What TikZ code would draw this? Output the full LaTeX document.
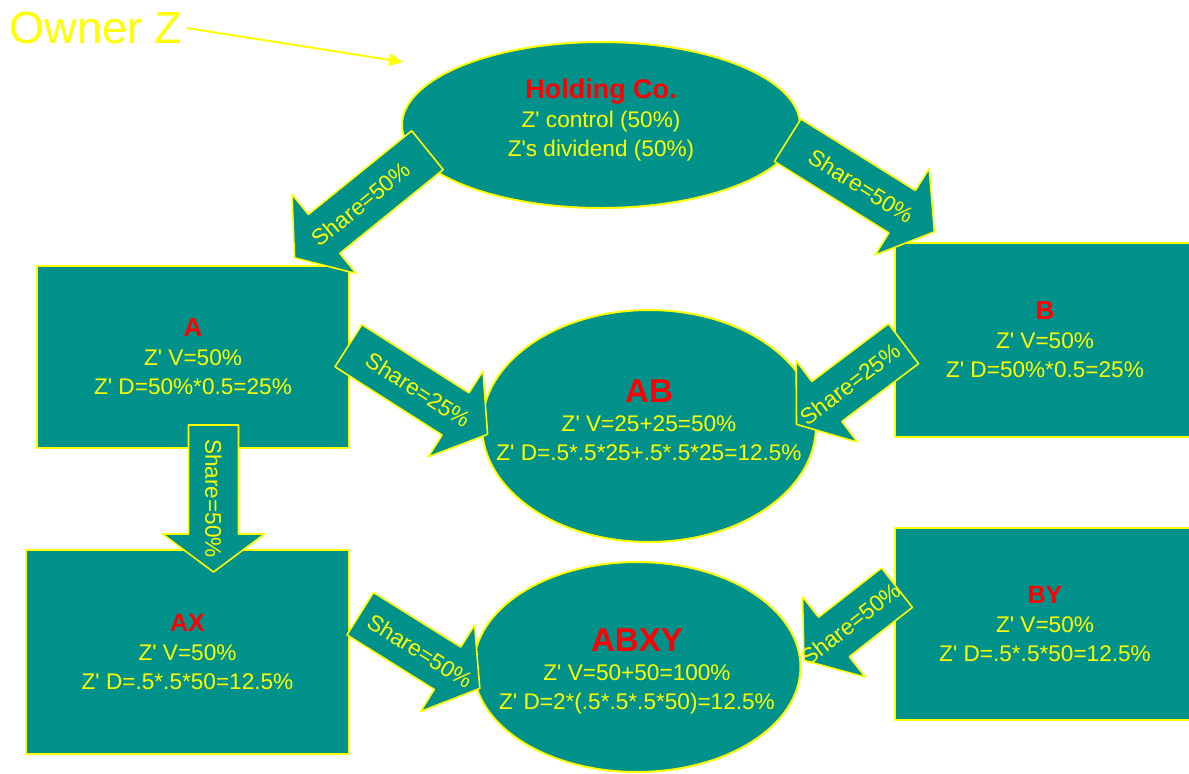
\documentclass[tikz,border=0pt]{standalone}
\usepackage{fontspec}
\setmainfont{Liberation Sans}[Ligatures=TeXOff]
\usetikzlibrary{shapes.geometric,arrows.meta}
\definecolor{zteal}{RGB}{0,146,138}
\definecolor{zyellow}{RGB}{255,255,0}
\definecolor{zred}{RGB}{255,0,0}
\newcommand\bodyfont{\fontsize{11.3}{14.5}\selectfont}
\newcommand\hd[2]{{\fontsize{#1}{#1}\selectfont\bfseries\textcolor{zred}{#2}}}
\begin{document}
\begin{tikzpicture}[x=0.5pt,y=-0.5pt,line join=round,>={Triangle[length=7pt,width=6pt]}]
	\tikzset{every node/.style={text=zyellow,font=\bodyfont,align=center},
		box/.style={draw=zyellow,line width=1.3pt,fill=zteal,inner sep=0pt},
		oval/.style={ellipse,draw=zyellow,line width=1pt,fill=zteal,inner sep=0pt},
		sharearrow/.style={draw=zyellow,line width=0.8pt,fill=zteal}}
	\useasboundingbox (0,0) rectangle (1189,773);
	\clip (0,0) rectangle (1189,773);
	\fill[white] (0,0) rectangle (1189,773);
	% companies
	\node[oval,minimum width=199pt,minimum height=83pt] (hold) at (601,125) {};
	\node[oval,minimum width=167pt,minimum height=116pt] (ab) at (649,426) {};
	\node[oval,minimum width=163.5pt,minimum height=105pt] (abxy) at (637,667) {};
	\node[box,minimum width=156pt,minimum height=91pt] (a) at (193,357) {\hd{13}{A}\\Z' V=50\%\\Z' D=50\%*0.5=25\%};
	\node[box,minimum width=150pt,minimum height=97pt] (b) at (1045,340) {\hd{13}{B}\\Z' V=50\%\\Z' D=50\%*0.5=25\%};
	\node[box,minimum width=161.5pt,minimum height=102pt] (ax) at (187.5,652) {\hd{12.5}{AX}\\Z' V=50\%\\Z' D=.5*.5*50=12.5\%};
	\node[box,minimum width=150pt,minimum height=96pt] (by) at (1045,624) {\hd{12.5}{BY}\\Z' V=50\%\\Z' D=.5*.5*50=12.5\%};
	% shares
	\foreach \nm/\pos/\ang/\flip/\len/\txt in
		{s1/{361,204}/39/180/171/50, s2/{861,186}/-32/0/173/50, s3/{418,390}/-32.5/0/165/25,
		 s4/{850,384}/37/180/134/25, s5/{213.5,498.5}/-90/0/147/50, s6/{420,651}/-32/0/141/50,
		 s7/{850.5,624}/38/180/118/50}
	{
		\begin{scope}[shift={(\pos)},rotate=\ang+\flip]
			\draw[sharearrow] ({-\len/2},-25) -- ({\len/2-38},-25) -- ({\len/2-38},-51) -- ({\len/2},0)
				-- ({\len/2-38},51) -- ({\len/2-38},25) -- ({-\len/2},25) -- cycle;
		\end{scope}
		\node[rotate=\ang] (\nm) at (\pos) {Share=\txt\%};
	}
	\node at ([yshift=2.5pt]hold.center) {\hd{13.5}{Holding Co.}\\Z' control (50\%)\\Z's dividend (50\%)};
	\node at ([yshift=3pt]ab.center) {\hd{16.5}{AB}\\Z' V=25+25=50\%\\Z' D=.5*.5*25+.5*.5*25=12.5\%};
	\node at ([yshift=-2pt]abxy.center) {\hd{16.5}{ABXY}\\Z' V=50+50=100\%\\Z' D=2*(.5*.5*.5*50)=12.5\%};
	% owner
	\node[font=\fontsize{22.5}{22.5}\selectfont,inner sep=2pt] (owner) at (96,28) {Owner Z};
	\coordinate (zend) at (403,62);
	\draw[->,zyellow,line width=1pt] (owner.east) -- (zend);
\end{tikzpicture}
\end{document}
